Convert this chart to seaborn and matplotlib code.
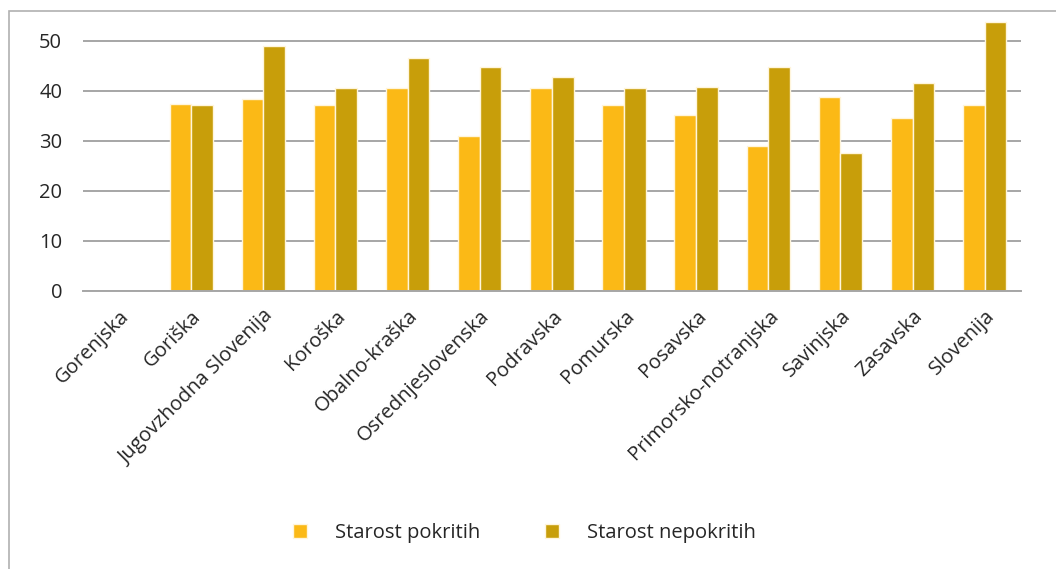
import numpy as np
import pandas as pd
import matplotlib
matplotlib.use('Agg')
import matplotlib.pyplot as plt
import seaborn as sns
from matplotlib.patches import Rectangle

regions = ['Gorenjska', 'Goriška', 'Jugovzhodna Slovenija', 'Koroška', 'Obalno-kraška',
           'Osrednjeslovenska', 'Podravska', 'Pomurska', 'Posavska', 'Primorsko-notranjska',
           'Savinjska', 'Zasavska', 'Slovenija']
pokritih = [np.nan, 37.3, 38.3, 37.2, 40.6, 31.0, 40.6, 37.2, 35.2, 28.9, 38.7, 34.6, 37.2]
nepokritih = [np.nan, 37.2, 48.9, 40.6, 46.6, 44.7, 42.8, 40.6, 40.8, 44.7, 27.6, 41.5, 53.7]
series = ['Starost pokritih', 'Starost nepokritih']
colors = ['#FBB916', '#C89E0A']

df = pd.DataFrame({
    'regija': regions * 2,
    'serija': [series[0]] * len(regions) + [series[1]] * len(regions),
    'vrednost': pokritih + nepokritih,
})

sns.set_style('white')
plt.rcParams['font.family'] = ['Open Sans', 'DejaVu Sans']

fig = plt.figure(figsize=(10.56, 5.69), dpi=100)
ax = fig.add_axes([0.0786, 0.4886, 0.888, 0.4833])

sns.barplot(data=df, x='regija', y='vrednost', hue='serija', order=regions,
            hue_order=series, palette=colors, saturation=1, width=0.6,
            edgecolor='#fff5dc', linewidth=1, ax=ax, legend=True, zorder=3)

ax.set_ylim(0, 55)
ax.set_xlim(-0.5, len(regions) - 0.5)
ax.set_yticks([0, 10, 20, 30, 40, 50])
ax.yaxis.grid(True, color='#a6a6a6', linewidth=1.4, zorder=0)
ax.set_axisbelow(True)
for s in ['top', 'right', 'left']:
    ax.spines[s].set_visible(False)
ax.spines['bottom'].set_color('#a6a6a6')
ax.spines['bottom'].set_linewidth(1.4)
ax.spines['bottom'].set_zorder(4)

ax.set_xticks(np.arange(len(regions)))
ax.set_xticklabels(regions, rotation=45, ha='right', rotation_mode='anchor', fontsize=14.5)
ax.set_xticks(np.arange(len(regions) + 1) - 0.5, minor=True)
ax.tick_params(axis='x', which='major', length=0, pad=11)
ax.tick_params(axis='x', which='minor', length=8, color='#a6a6a6', width=1.2)
ax.tick_params(axis='y', length=0, labelsize=14.5, pad=15)
ax.set_xlabel('')
ax.set_ylabel('')

handles, labels = ax.get_legend_handles_labels()
ax.legend(handles, labels, loc='center', bbox_to_anchor=(0.4705, -0.88),
          bbox_transform=ax.transAxes, ncol=2, frameon=False, fontsize=14.5,
          handlelength=0.7, handleheight=0.7, columnspacing=3.2, handletextpad=1.4)

fig.patches.append(Rectangle((9 / 1056, -0.05), 1.2, 1.05 - 11 / 569,
                             transform=fig.transFigure, fill=False,
                             edgecolor='#b0b0b0', linewidth=1.2))

fig.savefig('out.png', dpi=100)
